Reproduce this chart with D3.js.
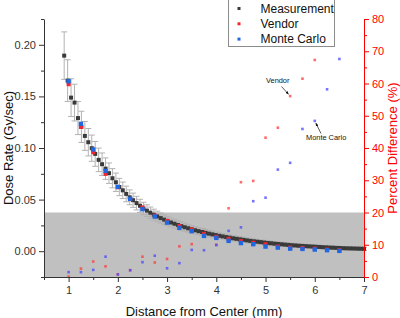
<!DOCTYPE html>
<html>
<head>
<meta charset="utf-8">
<script src="https://cdnjs.cloudflare.com/ajax/libs/d3/7.8.5/d3.min.js"></script>
<style>
  body { margin: 0; background: #fff; }
  svg { display: block; font-family: Arial, "Liberation Sans", sans-serif; }
</style>
</head>
<body>
<svg id="chart" width="400" height="318"></svg>
<script>
// measured dose rate (black squares with error bars)
const measX = [0.91,0.98,1.05,1.12,1.19,1.26,1.33,1.40,1.47,1.54,1.61,1.68,1.75,1.82,1.89,1.96,2.03,2.10,2.17,2.24,
  2.31,2.38,2.45,2.52,2.59,2.66,2.73,2.80,2.87,2.94,3.01,3.08,3.15,3.22,3.29,3.36,3.43,3.50,3.57,3.64,
  3.71,3.78,3.85,3.92,3.99,4.06,4.13,4.20,4.27,4.34,4.41,4.48,4.55,4.62,4.69,4.76,4.83,4.90,4.97,5.04,
  5.11,5.18,5.25,5.32,5.39,5.46,5.53,5.60,5.67,5.74,5.81,5.88,5.95,6.02,6.09,6.16,6.23,6.30,6.37,6.44,
  6.51,6.58,6.65,6.72,6.79,6.86,6.93,7.00];
const measDose = [0.1895,0.1653,0.1488,0.1440,0.1290,0.1205,0.1117,0.1056,0.0998,0.0943,0.0885,0.0843,0.0800,0.0756,0.0707,0.0668,0.0622,0.0590,0.0555,0.0522,
  0.0494,0.0466,0.0440,0.0414,0.0393,0.0373,0.0354,0.0337,0.0321,0.0306,0.0292,0.0278,0.0266,0.0254,0.0243,0.0232,0.0222,0.0212,0.0203,0.0194,
  0.0186,0.0178,0.0170,0.0163,0.0156,0.0149,0.0143,0.0137,0.0131,0.0125,0.0120,0.0115,0.0110,0.0105,0.0100,0.0096,0.0092,0.0088,0.0084,0.0080,
  0.0077,0.0073,0.0070,0.0067,0.0064,0.0061,0.0058,0.0056,0.0053,0.0051,0.0049,0.0047,0.0045,0.0043,0.0041,0.0039,0.0037,0.0035,0.0034,0.0032,
  0.0031,0.0029,0.0028,0.0027,0.0026,0.0025,0.0024,0.0023];
const measErr = [0.0230,0.0202,0.0183,0.0178,0.0160,0.0151,0.0140,0.0133,0.0127,0.0120,0.0114,0.0109,0.0104,0.0099,0.0093,0.0089,0.0084,0.0080,0.0076,0.0072,
  0.0069,0.0066,0.0063,0.0060,0.0057,0.0055,0.0053,0.0051,0.0049,0.0047,0.0046,0.0044,0.0043,0.0041,0.0040,0.0039,0.0038,0.0036,0.0035,0.0034,
  0.0033,0.0032,0.0032,0.0031,0.0030,0.0029,0.0028,0.0028,0.0027,0.0026,0.0026,0.0025,0.0025,0.0024,0.0024,0.0023,0.0023,0.0022,0.0022,0.0021,
  0.0021,0.0020,0.0020,0.0020,0.0019,0.0019,0.0019,0.0018,0.0018,0.0018,0.0018,0.0017,0.0017,0.0017,0.0017,0.0016,0.0016,0.0016,0.0016,0.0016,
  0.0016,0.0015,0.0015,0.0015,0.0015,0.0015,0.0015,0.0015];

// vendor / monte carlo calculations every 0.25 mm
const calcX = [1,1.25,1.5,1.75,2,2.25,2.5,2.75,3,3.25,3.5,3.75,4,4.25,4.5,4.75,5,5.25,5.5,5.75,6,6.25,6.5];
const vendorDose = [0.1618,0.1204,0.0959,0.0749,0.0620,0.0505,0.0425,0.0345,0.0294,0.0245,0.0210,0.0168,0.0140,0.0120,0.0097,0.0082,0.0068,0.0045,0.0035,0.0032,0.0025,0.0016,0.0010];
const mcDose = [0.1647,0.1234,0.0986,0.0778,0.0623,0.0507,0.0407,0.0336,0.0277,0.0226,0.0194,0.0148,0.0129,0.0100,0.0079,0.0068,0.0045,0.0035,0.0025,0.0022,0.0016,0.0010,0.0003];

// percent difference (right axis)
const vendorPct = [0.1,2.6,4.8,3.3,0.8,2.1,6.3,4.5,5.6,9.5,10.2,14.8,10.0,21.3,29.4,29.8,43.2,46.3,56.1,61.5,67.3,77.6,null];
const mcPct = [1.5,1.5,2.2,6.3,0.8,2.1,4.6,6.6,2.7,4.3,8.4,8.3,9.9,14.3,15.4,23.5,24.6,33.3,35.4,45.9,48.4,58.2,67.6];

const leftTicks = [0, 0.05, 0.10, 0.15, 0.20];
const rightTicks = [0, 10, 20, 30, 40, 50, 60, 70, 80];
const xTicks = [1, 2, 3, 4, 5, 6, 7];

const svg = d3.select("#chart");
const m = { left: 44, right: 364, top: 19, bottom: 277 };

const x = d3.scaleLinear().domain([0.5, 7]).range([m.left, m.right]);
const y = d3.scaleLinear().domain([-0.025, 0.225]).range([m.bottom, m.top]);
const yR = d3.scaleLinear().domain([0, 80]).range([m.bottom, m.top]);

// shaded band 0-20 % on the right axis
svg.append("rect")
  .attr("x", m.left).attr("width", m.right - m.left)
  .attr("y", yR(20)).attr("height", yR(0) - yR(20))
  .attr("fill", "#c0c0c0");

// percent difference dots
const pctG = svg.append("g");
calcX.forEach((d, i) => {
  if (vendorPct[i] != null)
    pctG.append("rect").attr("x", x(d) - 1.3).attr("y", yR(vendorPct[i]) - 1.3)
      .attr("width", 2.6).attr("height", 2.6).attr("fill", "#ff3b3b").attr("opacity", 0.75);
  pctG.append("rect").attr("x", x(d) - 1.3).attr("y", yR(mcPct[i]) - 1.3)
    .attr("width", 2.6).attr("height", 2.6).attr("fill", "#4848ff").attr("opacity", 0.75);
});

// error bars
const errG = svg.append("g").attr("stroke", "#b2b2b2").attr("stroke-width", 1);
measX.forEach((d, i) => {
  const cx = x(d), y1 = y(measDose[i] + measErr[i]), y2 = y(measDose[i] - measErr[i]);
  errG.append("line").attr("x1", cx).attr("x2", cx).attr("y1", y1).attr("y2", y2);
  errG.append("line").attr("x1", cx - 3).attr("x2", cx + 3).attr("y1", y1).attr("y2", y1);
  errG.append("line").attr("x1", cx - 3).attr("x2", cx + 3).attr("y1", y2).attr("y2", y2);
});

// measurement squares
svg.append("g").selectAll("rect").data(measX).join("rect")
  .attr("x", d => x(d) - 2).attr("y", (d, i) => y(measDose[i]) - 2)
  .attr("width", 4).attr("height", 4).attr("fill", "#3a3a3a");

// vendor then monte carlo squares
svg.append("g").selectAll("rect").data(calcX).join("rect")
  .attr("x", d => x(d) - 2).attr("y", (d, i) => y(vendorDose[i]) - 2)
  .attr("width", 4).attr("height", 4).attr("fill", "#f0282d");
svg.append("g").selectAll("rect").data(calcX).join("rect")
  .attr("x", d => x(d) - 2.2).attr("y", (d, i) => y(mcDose[i]) - 2.2)
  .attr("width", 4.4).attr("height", 4.4).attr("fill", "#2167e0");

// axes
function styleAxis(g, color) {
  g.select(".domain").attr("stroke", color);
  g.selectAll(".tick line").attr("stroke", color);
  g.selectAll("text").attr("fill", color).attr("font-size", 11);
}

const yAxis = svg.append("g").attr("transform", `translate(${m.left},0)`)
  .call(d3.axisLeft(y).tickValues(leftTicks).tickSize(5).tickSizeOuter(0).tickPadding(3).tickFormat(d3.format(".2f")));
styleAxis(yAxis, "#333");
svg.append("g").attr("transform", `translate(${m.left},0)`)
  .call(d3.axisLeft(y).tickValues([-0.025, 0.025, 0.075, 0.125, 0.175, 0.225]).tickSize(3).tickSizeOuter(0).tickFormat(""))
  .call(g => { g.select(".domain").remove(); g.selectAll("line").attr("stroke", "#333"); });

const xAxis = svg.append("g").attr("transform", `translate(0,${m.bottom})`)
  .call(d3.axisBottom(x).tickValues(xTicks).tickSize(5).tickSizeOuter(0).tickPadding(4).tickFormat(d3.format("d")));
styleAxis(xAxis, "#333");
svg.append("g").attr("transform", `translate(0,${m.bottom})`)
  .call(d3.axisBottom(x).tickValues([0.5, 1.5, 2.5, 3.5, 4.5, 5.5, 6.5]).tickSize(3).tickSizeOuter(0).tickFormat(""))
  .call(g => { g.select(".domain").remove(); g.selectAll("line").attr("stroke", "#333"); });

const rAxis = svg.append("g").attr("transform", `translate(${m.right},0)`)
  .call(d3.axisRight(yR).tickValues(rightTicks).tickSize(5).tickSizeOuter(0).tickPadding(3));
styleAxis(rAxis, "#ff0000");
svg.append("g").attr("transform", `translate(${m.right},0)`)
  .call(d3.axisRight(yR).tickValues([5, 15, 25, 35, 45, 55, 65, 75]).tickSize(3).tickSizeOuter(0).tickFormat(""))
  .call(g => { g.select(".domain").remove(); g.selectAll("line").attr("stroke", "#ff0000"); });

// axis titles
svg.append("text").attr("transform", `translate(13,${(m.top + m.bottom) / 2}) rotate(-90)`)
  .attr("text-anchor", "middle").attr("font-size", 13).attr("fill", "#111")
  .text("Dose Rate (Gy/sec)");
svg.append("text").attr("transform", `translate(397,${(m.top + m.bottom) / 2}) rotate(-90)`)
  .attr("text-anchor", "middle").attr("font-size", 13).attr("fill", "#ff0000")
  .text("Percent Difference (%)");
svg.append("text").attr("x", (m.left + m.right) / 2).attr("y", 316)
  .attr("text-anchor", "middle").attr("font-size", 13).attr("fill", "#111")
  .text("Distance from Center (mm)");

// legend
const legend = svg.append("g");
legend.append("rect").attr("x", 228.5).attr("y", -1).attr("width", 106).attr("height", 47.5)
  .attr("fill", "#fff").attr("stroke", "#8c8c8c");
const legItems = [["Measurement", "#3a3a3a"], ["Vendor", "#f0282d"], ["Monte Carlo", "#2167e0"]];
legItems.forEach(([name, col], i) => {
  const cy = 8.5 + i * 15.3;
  legend.append("rect").attr("x", 237.5).attr("y", cy - 1.5).attr("width", 3).attr("height", 3).attr("fill", col);
  legend.append("text").attr("x", 260.5).attr("y", cy + 4.3).attr("font-size", 12).attr("fill", "#111").text(name);
});

// annotations
svg.append("defs").append("marker").attr("id", "ah")
  .attr("viewBox", "0 0 10 10").attr("refX", 9).attr("refY", 5)
  .attr("markerWidth", 5).attr("markerHeight", 5).attr("orient", "auto")
  .append("path").attr("d", "M0,1 L10,5 L0,9 Z").attr("fill", "#111");
const notes = [
  { text: "Vendor", tx: 266, ty: 83, from: [281.5, 86.5], idx: 18, pct: vendorPct },
  { text: "Monte Carlo", tx: 306, ty: 140, from: [321, 133.5], idx: 20, pct: mcPct }
];
notes.forEach(n => {
  svg.append("text").attr("x", n.tx).attr("y", n.ty).attr("font-size", 7.4).attr("fill", "#111").text(n.text);
  const px = x(calcX[n.idx]), py = yR(n.pct[n.idx]);
  const dx = px - n.from[0], dy = py - n.from[1], len = Math.hypot(dx, dy);
  svg.append("line").attr("x1", n.from[0]).attr("y1", n.from[1])
    .attr("x2", px - dx / len * 2.5).attr("y2", py - dy / len * 2.5)
    .attr("stroke", "#111").attr("stroke-width", 0.7).attr("marker-end", "url(#ah)");
});
</script>
</body>
</html>
